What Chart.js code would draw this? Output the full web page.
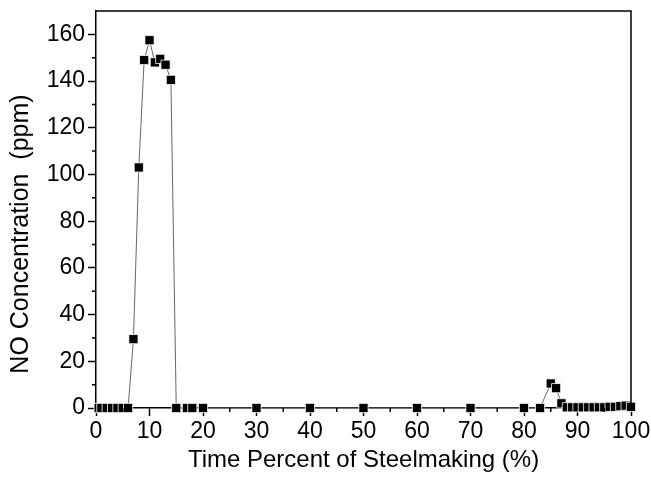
<!DOCTYPE html>
<html>
<head>
<meta charset="utf-8">
<script src="https://cdn.jsdelivr.net/npm/chart.js@4/dist/chart.umd.min.js"></script>
<style>
  html, body { margin: 0; padding: 0; background: #fff; }
  #wrap { width: 651px; height: 477px; }
</style>
</head>
<body>
<div id="wrap"><canvas id="no-chart" width="651" height="477"></canvas></div>
<script>
// time percent of steelmaking (%)
var timePct = [0.5, 1, 2, 3, 4, 5, 6, 7, 8, 9, 10, 11, 12, 13, 14, 15, 17, 18, 20,
  30, 40, 50, 60, 70, 80, 83, 85, 86, 87, 88, 89, 90, 91, 92, 93, 94, 95, 96, 97, 98, 99, 100];
// NO concentration (ppm)
var noPpm = [0, 0, 0, 0, 0, 0, 0, 29.5, 103, 149, 157.5, 148, 149.5, 147, 140.5, 0, 0, 0, 0,
  0, 0, 0, 0, 0, 0, 0, 10.5, 8.5, 2, 0.3, 0.3, 0.3, 0.3, 0.3, 0.3, 0.3, 0.3, 0.5, 0.5, 0.8, 1, 0.5];

var yTicks = [0, 20, 40, 60, 80, 100, 120, 140, 160];
var xMajor = 10, xMinor = 5;
var yMajor = 20, yMinor = 10;
var yTitle = 'NO Concentration  (ppm)';

var points = timePct.map(function (t, i) { return { x: t, y: noPpm[i] }; });

// minor ticks, top/right frame and the y title
var framePlugin = {
  id: 'frame',
  afterDraw: function (chart) {
    var c = chart.ctx, a = chart.chartArea;
    var xs = chart.scales.x, ys = chart.scales.y;
    c.save();
    c.strokeStyle = '#000';
    c.lineWidth = 1.5;
    c.beginPath();
    c.moveTo(a.left, a.top); c.lineTo(a.right, a.top); c.lineTo(a.right, a.bottom);
    c.stroke();
    c.beginPath();
    for (var v = xs.min + xMinor; v < xs.max; v += xMajor) {
      var px = xs.getPixelForValue(v);
      c.moveTo(px, a.bottom); c.lineTo(px, a.bottom + 4);
    }
    for (var w = ys.min + yMinor; w < ys.max; w += yMajor) {
      var py = ys.getPixelForValue(w);
      c.moveTo(a.left, py); c.lineTo(a.left - 4, py);
    }
    c.stroke();
    // y title, sits a little below the axis centre like the original
    c.translate(21, 234);
    c.rotate(-Math.PI / 2);
    c.fillStyle = '#000';
    c.font = '25px "Liberation Sans"';
    c.textAlign = 'center';
    c.textBaseline = 'middle';
    c.fillText(yTitle, 0, 0);
    c.restore();
  }
};

var ctx = document.getElementById('no-chart');
var myChart = new Chart(ctx, {
  type: 'line',
  data: {
    datasets: [{
      label: 'NO',
      data: points,
      borderColor: '#666',
      borderWidth: 1,
      pointStyle: 'rect',
      pointRadius: 6.5,
      pointBackgroundColor: '#000',
      pointBorderColor: '#fff',
      pointBorderWidth: 0.8,
      tension: 0,
      clip: false
    }]
  },
  options: {
    responsive: false,
    animation: false,
    layout: { padding: { top: 11, right: 20, left: 0, bottom: 0 } },
    plugins: { legend: { display: false }, tooltip: { enabled: false } },
    scales: {
      x: {
        type: 'linear',
        min: 0, max: 100,
        afterFit: function (s) {
          s.height = 69;
          s.paddingLeft = 0; s.paddingRight = 0;
        },
        ticks: {
          stepSize: xMajor,
          color: '#000',
          padding: 2,
          maxRotation: 0,
          font: { family: 'Liberation Sans', size: 23 }
        },
        grid: { drawOnChartArea: false, tickLength: 8, tickWidth: 1.5, tickColor: '#000' },
        border: { color: '#000', width: 1.5 },
        title: {
          display: true,
          text: 'Time Percent of Steelmaking (%)',
          color: '#000',
          padding: { top: 0, bottom: 2 },
          font: { family: 'Liberation Sans', size: 24 }
        }
      },
      y: {
        min: 0, max: 170,
        afterFit: function (s) {
          s.width = 96;
          s.paddingTop = 0; s.paddingBottom = 0;
        },
        afterBuildTicks: function (s) {
          s.ticks = yTicks.map(function (v) { return { value: v }; });
        },
        ticks: {
          color: '#000',
          padding: 3,
          font: { family: 'Liberation Sans', size: 23 }
        },
        grid: { drawOnChartArea: false, tickLength: 8, tickWidth: 1.5, tickColor: '#000' },
        border: { color: '#000', width: 1.5 }
      }
    }
  },
  plugins: [framePlugin]
});
</script>
</body>
</html>
